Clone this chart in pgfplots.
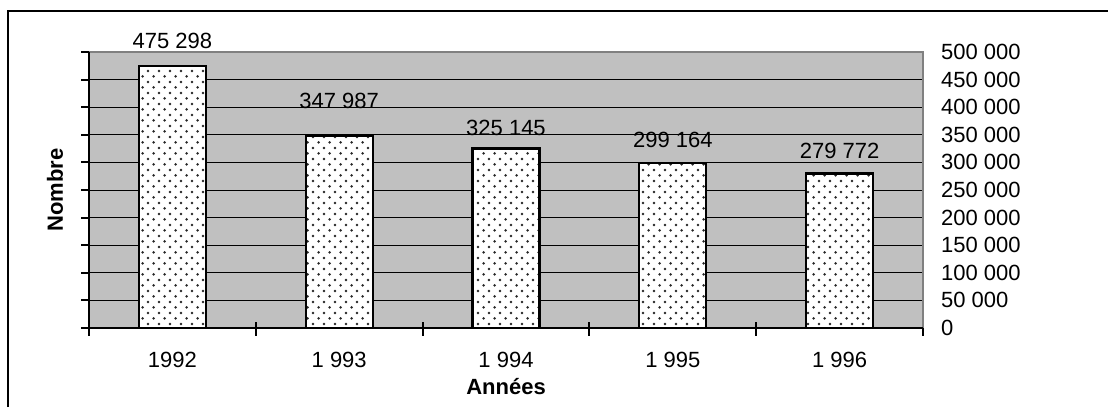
\documentclass[border=0pt]{standalone}
\usepackage{fontspec}
\setmainfont{Liberation Sans}
\usepackage{pgfplots}
\usepackage{pgfplotstable}
\pgfplotsset{compat=1.18}
\usetikzlibrary{patterns}

\definecolor{plotbg}{RGB}{192,192,192}
\definecolor{edgegray}{RGB}{128,128,128}

% staggered dot fill of the bars
\pgfdeclarepatternformonly{bardots}{\pgfqpoint{0pt}{0pt}}{\pgfqpoint{5.4pt}{5.4pt}}{\pgfqpoint{5.4pt}{5.4pt}}{%
  \pgfpathcircle{\pgfqpoint{1.35pt}{1.35pt}}{0.72pt}%
  \pgfpathcircle{\pgfqpoint{4.05pt}{4.05pt}}{0.72pt}%
  \pgfusepath{fill}}

\pgfplotstableread{
x y off
0 475298 12.5
1 347987 17.5
2 325145 10.5
3 299164 11.5
4 279772 11.5
}\nombre

\begin{document}
\begin{tikzpicture}
\useasboundingbox (0,0) rectangle (554pt,203.5pt);
\begin{axis}[
    at={(44.5pt,39.5pt)}, anchor=south west,
    scale only axis, width=417pt, height=138pt,
    xmin=-0.5, xmax=4.5,
    ymin=0, ymax=500000,
    clip=false,
    axis line style={draw=none},
    axis background/.style={fill=plotbg},
    xtick={0,1,2,3,4},
    xticklabels={1992,1 993,1 994,1 995,1 996},
    minor xtick={-0.5,0.5,1.5,2.5,3.5,4.5},
    major x tick style={draw=none},
    minor x tick style={black, line width=1pt, yshift=3pt},
    minor tick length=7pt,
    ytick={0,50000,...,500000},
    yticklabels={0,50 000,100 000,150 000,200 000,250 000,300 000,350 000,400 000,450 000,500 000},
    scaled y ticks=false,
    tick align=outside,
    major tick length=4pt,
    tick pos=left,
    yticklabel pos=right,
    y tick style={black, line width=1pt},
    ymajorgrids=true,
    major grid style={black, line width=0.5pt},
    tick label style={font=\fontsize{11}{13}\selectfont},
    xticklabel style={yshift=-4.5pt},
    yticklabel style={anchor=west, xshift=1.5pt},
    every axis x label/.style={at={(axis description cs:0.5,0)}, anchor=center, yshift=-29.5pt, font=\fontsize{11}{13}\selectfont\bfseries},
    every axis y label/.style={at={(axis description cs:0,0.5)}, xshift=-17pt, rotate=90, anchor=center, font=\fontsize{11}{13}\selectfont\bfseries},
    xlabel={Années},
    ylabel={Nombre},
]
\addplot[
    ybar, bar width=33.5pt,
    draw=black, line width=1.1pt,
    fill=white, postaction={pattern=bardots, pattern color=black!85},
    point meta=y,
    visualization depends on={\thisrow{off} \as \off},
    nodes near coords={\pgfmathprintnumber[fixed,precision=0,1000 sep={\ },assume math mode=true]{\pgfplotspointmeta}},
    every node near coord/.append style={anchor=center, yshift=\off pt, font=\fontsize{11}{13}\selectfont, black},
] table[x=x, y=y] {\nombre};
\draw[edgegray, line width=1pt] (rel axis cs:0,1) -- (rel axis cs:1,1) -- (rel axis cs:1,0);
\draw[black, line width=1pt] (rel axis cs:0,1) -- (rel axis cs:0,0) -- (rel axis cs:1,0);
\end{axis}
\draw[line width=1.2pt] (4pt,0) -- (4pt,198pt) -- (554pt,198pt);
\end{tikzpicture}
\end{document}
